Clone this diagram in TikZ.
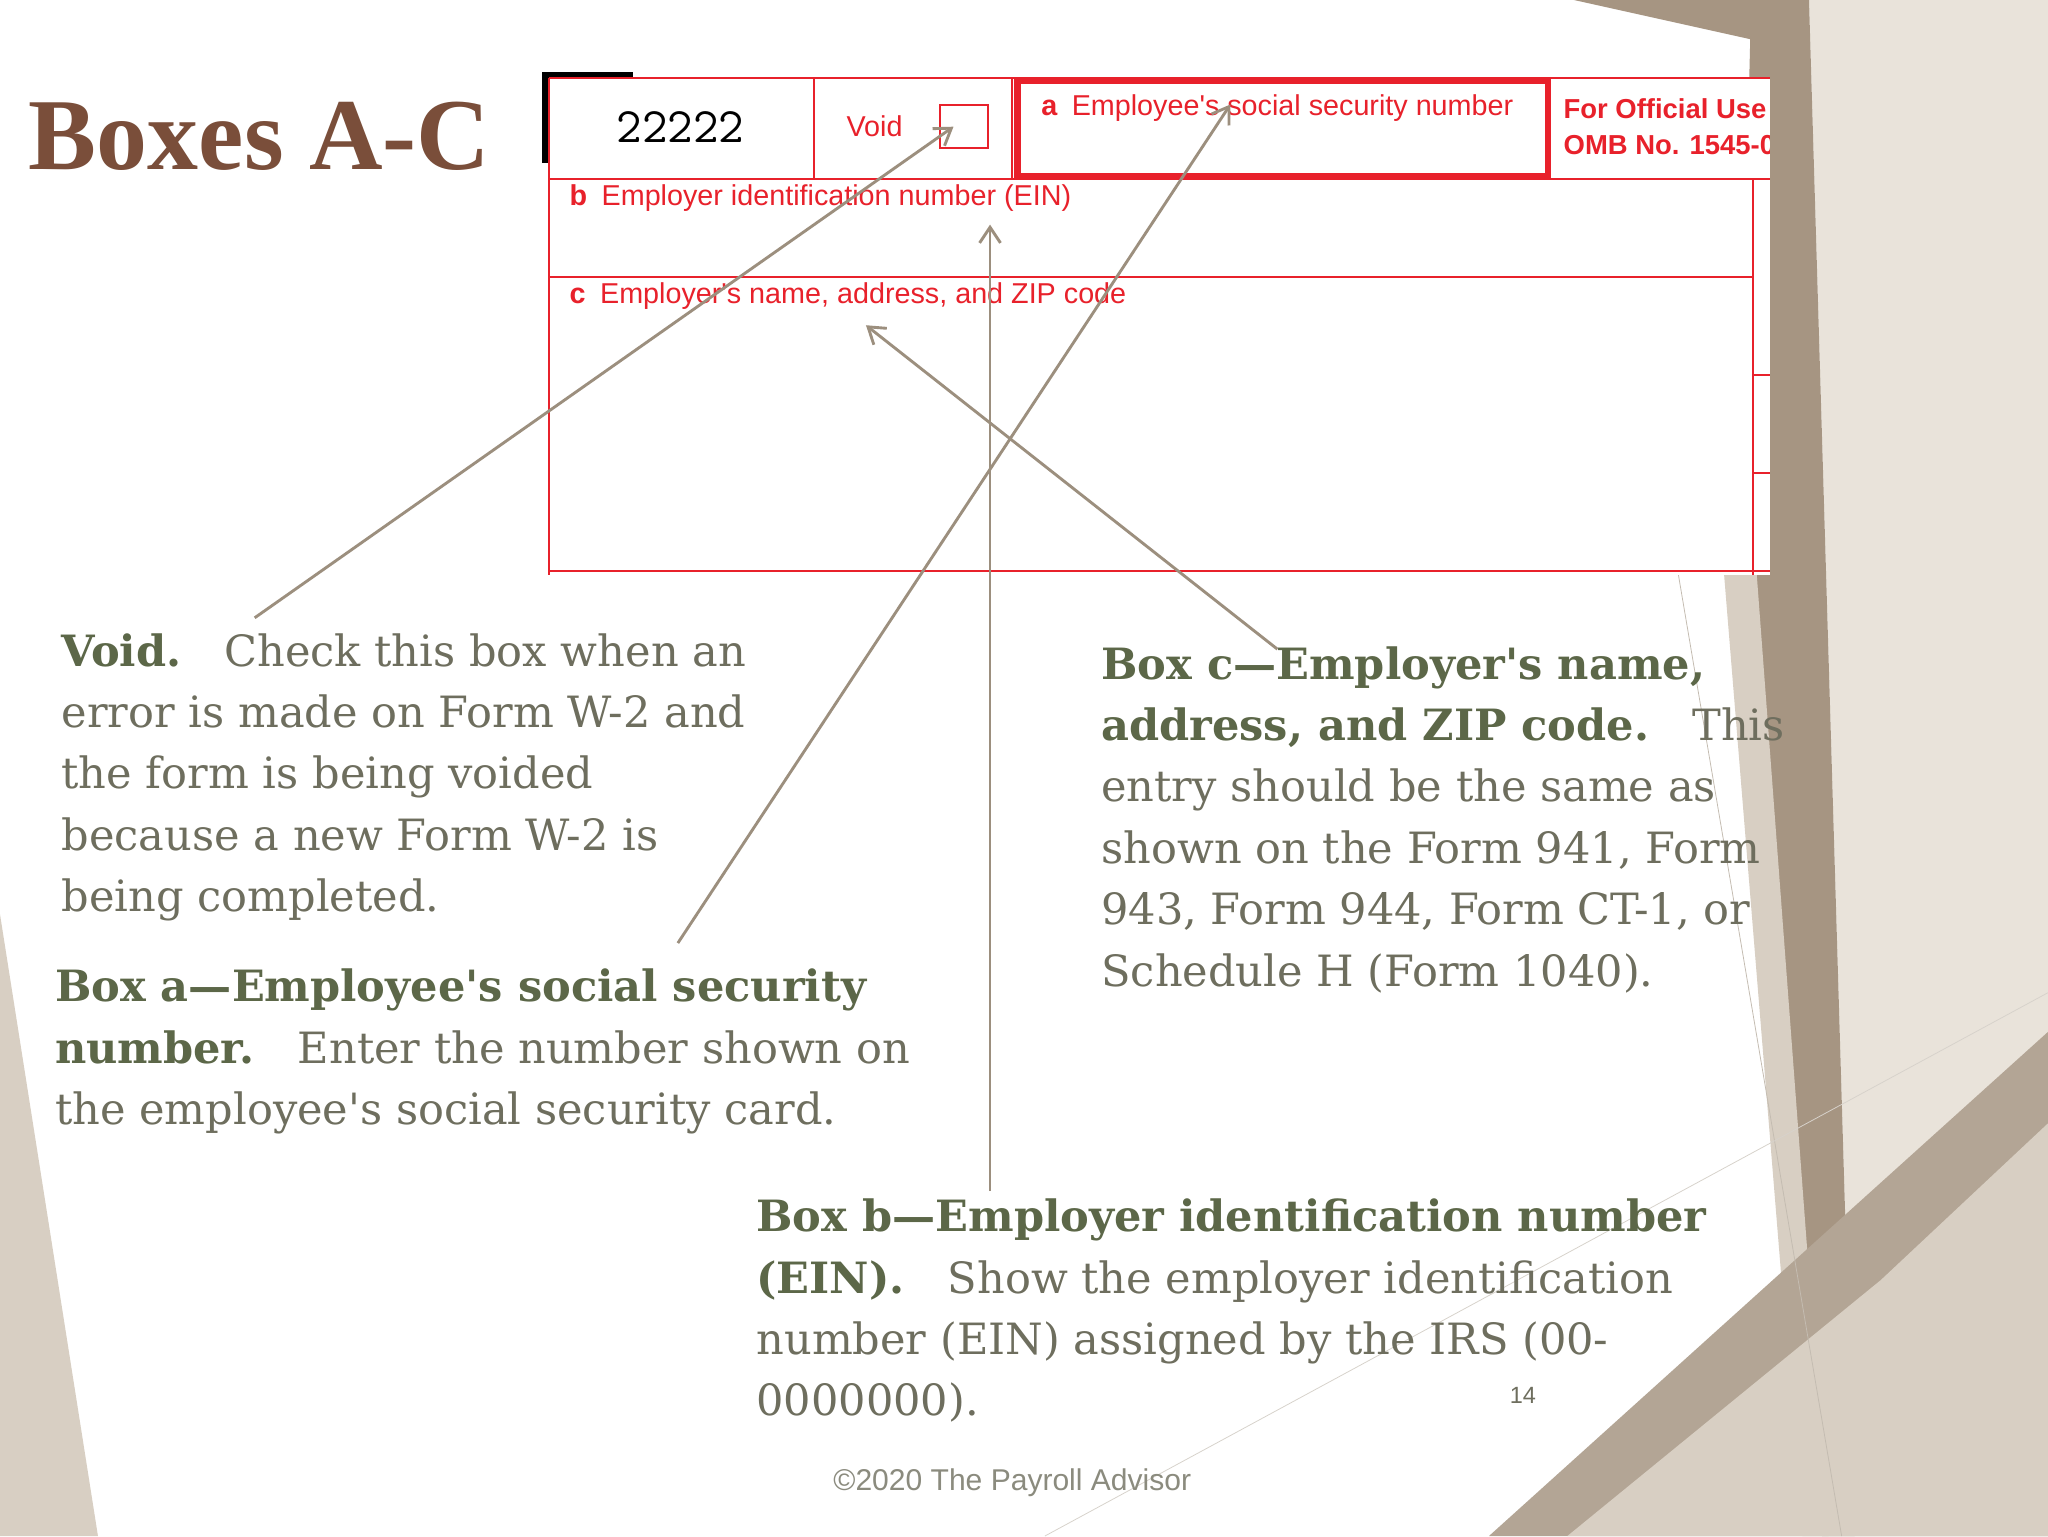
\documentclass[tikz,border=0pt]{standalone}
\usepackage{fontspec}
\setmainfont{DejaVu Serif}
\newfontfamily\titlefont{Liberation Serif}
\newfontfamily\formfont{Liberation Sans}
\usetikzlibrary{arrows.meta}
\definecolor{ttl}{HTML}{7A4E3A}
\definecolor{hd}{HTML}{5C6748}
\definecolor{bt}{HTML}{6E6E5E}
\definecolor{ar}{HTML}{9C8F7E}
\definecolor{taupe}{HTML}{A69582}
\definecolor{beige}{HTML}{D8CFC3}
\definecolor{lbeige}{HTML}{E9E3DA}
\definecolor{fred}{HTML}{E8212B}
\newcommand{\ap}{\textquotesingle}
\tikzset{
  para/.style={anchor=base west,align=left,text=bt,inner sep=0pt,font=\fontsize{33}{47}\selectfont},
  callout/.style={draw=ar,line width=2.2pt,-{Straight Barb[length=12pt,width=16pt]}},
  redl/.style={draw=fred,line width=1.5pt},
  flab/.style={anchor=west,text=fred,inner sep=0pt,font=\formfont\fontsize{22}{24}\selectfont}
}
\begin{document}
\begin{tikzpicture}[x=1pt,y=-1pt]
\useasboundingbox (0,0) rectangle (1568,1176);
\fill[white] (0,0) rectangle (1568,1176);
% background decorations
\fill[lbeige] (1385,0) -- (1568,0) -- (1568,1176) -- (1420,1176) -- cycle;
\fill[taupe] (1205,0) -- (1385,0) -- (1420,1176) -- (1395,1176) -- (1330,440) -- (1340,30) -- cycle;
\fill[beige] (1320,440) -- (1345,440) -- (1400,1176) -- (1380,1176) -- cycle;
\fill[taupe!85] (1140,1176) -- (1568,790) -- (1568,1176) -- cycle;
\fill[beige] (1200,1176) -- (1440,980) -- (1568,860) -- (1568,1176) -- cycle;
\fill[beige] (0,700) -- (75,1176) -- (0,1176) -- cycle;
\draw[ar!60,line width=0.6pt] (1285,440) -- (1410,1176);
\draw[ar!40,line width=0.6pt] (800,1176) -- (1568,760);
% title
\node[anchor=base west,inner sep=0pt,text=ttl,font=\titlefont\bfseries\fontsize{78}{80}\selectfont] (title) at (22,130) {Boxes A-C};
% form
\fill[black] (415,55) rectangle (485,62);
\fill[black] (415,55) rectangle (422,125);
\fill[white] (420,60) rectangle (1355,440);
\draw[redl] (420,60) -- (1355,60);
\draw[redl] (420,60) -- (420,440);
\draw[redl] (623,60) -- (623,137);
\draw[redl] (775,60) -- (775,137);
\draw[redl] (420,137) -- (1355,137);
\draw[redl] (420,212) -- (1342,212);
\draw[redl] (1342,137) -- (1342,440);
\draw[redl] (1342,287) -- (1355,287);
\draw[redl] (1342,362) -- (1355,362);
\draw[redl] (420,437) -- (1355,437);
\node[anchor=center,inner sep=0pt,font=\ttfamily\fontsize{38}{40}\selectfont] (num) at (521,97) {22222};
\node[flab] (void) at (648,97) {Void};
\node[draw=fred,line width=1.5pt,minimum width=37pt,minimum height=33pt,inner sep=0pt] (chk) at (738,97) {};
\draw[fred,line width=5pt] (779,62) rectangle (1185,135);
\node[flab] (la) at (797,83) {\textbf{a}\enspace Employee's social security number};
\begin{scope}
\clip (1190,60) rectangle (1355,137);
\node[flab,font=\formfont\bfseries\fontsize{21}{27}\selectfont,align=left] (off) at (1197,97) {For Official Use Only\\OMB No. 1545-0008};
\end{scope}
\node[flab] (lb) at (436,152) {\textbf{b}\enspace Employer identification number (EIN)};
\node[flab] (lc) at (436,227) {\textbf{c}\enspace Employer's name, address, and ZIP code};
% texts
\node[para] (tv) at (47,698) {\textcolor{hd}{\textbf{Void.}}\quad Check this box when an\\error is made on Form W-2 and\\the form is being voided\\because a new Form W-2 is\\being completed.};
\node[para] (ta) at (42,861) {\textcolor{hd}{\textbf{Box a---Employee\ap s social security}}\\\textcolor{hd}{\textbf{number.}}\quad Enter the number shown on\\the employee\ap s social security card.};
\node[para] (tc) at (843,755) {\textcolor{hd}{\textbf{Box c---Employer\ap s name,}}\\\textcolor{hd}{\textbf{address, and ZIP code.}}\quad This\\entry should be the same as\\shown on the Form 941, Form\\943, Form 944, Form CT-1, or\\Schedule H (Form 1040).};
\node[para] (tb) at (579,1084) {\textcolor{hd}{\textbf{Box b---Employer identification number}}\\\textcolor{hd}{\textbf{(EIN).}}\quad Show the employer identification\\number (EIN) assigned by the IRS (00-\\0000000).};
\node[text=bt,font=\formfont\fontsize{18}{20}\selectfont] (pg) at (1166,1068) {14};
\node[text=bt!80,font=\formfont\fontsize{23}{26}\selectfont] (copy) at (775,1135) {©2020 The Payroll Advisor};
% callouts
\coordinate (sv) at (195,473); \coordinate (ev) at (730,97);
\coordinate (sa) at (519,722); \coordinate (ea) at (942,80);
\coordinate (sb) at (758,912); \coordinate (eb) at (758,172);
\coordinate (sc) at (978,497); \coordinate (ec) at (663,249);
\draw[callout] (sv) -- (ev);
\draw[callout] (sa) -- (ea);
\draw[callout] (sb) -- (eb);
\draw[callout] (sc) -- (ec);
\end{tikzpicture}
\end{document}
